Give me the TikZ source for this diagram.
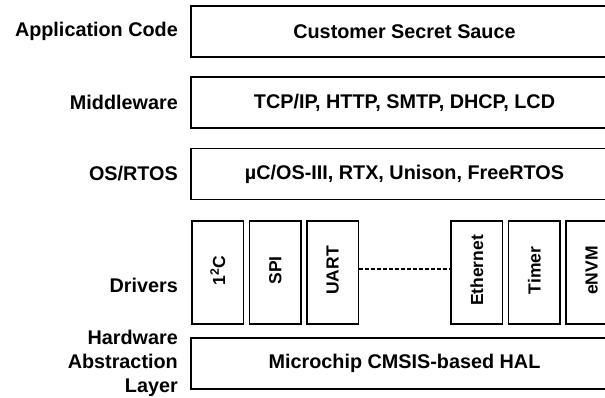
\documentclass[tikz,border=0pt]{standalone}
\usepackage{fontspec}
\setmainfont{Liberation Sans}
\tikzset{
  layer/.style={draw, line width=1.8pt, minimum width=427pt, minimum height=51pt,
    inner sep=0pt, font=\bfseries\fontsize{19.8}{24}\selectfont},
  side/.style={anchor=east, inner sep=0pt, align=right,
    font=\bfseries\fontsize{19.8}{24}\selectfont},
  drvbox/.style={draw, line width=1.8pt, minimum width=51.5pt, minimum height=103pt, inner sep=0pt},
  drvtext/.style={rotate=90, inner sep=0pt, font=\bfseries\fontsize{17.5}{20}\selectfont},
  dotline/.style={line width=1.6pt, dash pattern=on 3.5pt off 2.5pt}
}
\begin{document}
\begin{tikzpicture}[x=1pt, y=-1pt]
  \clip (0,0) rectangle (605,398);
  % layers
  \node[layer] (app) at (404.5,31.5) {Customer Secret Sauce};
  \node[layer] (mid) at (404.5,102.5) {TCP/IP, HTTP, SMTP, DHCP, LCD};
  \node[layer] (os)  at (404.5,174) {µC/OS-III, RTX, Unison, FreeRTOS};
  \node[layer] (hal) at (404.5,363.5) {Microchip CMSIS-based HAL};
  % drivers
  \foreach \n/\x/\t in {i2c/217.75/{1\textsuperscript{2}C}, spi/275.25/SPI, uart/332.75/UART,
      eth/476.75/Ethernet, tmr/534.25/Timer, envm/591.75/eNVM}{
    \node[drvbox] (\n) at (\x,272.5) {};
    \node[drvtext] (\n-t) at (\x,270.5) {\t};
  }
  \draw[dotline] ([yshift=3.5pt]uart.east) -- ([yshift=3.5pt]eth.west);
  % side labels
  \node[side] (lapp) at (178,31.5) {Application Code};
  \node[side] (lmid) at (178,102.5) {Middleware};
  \node[side] (los)  at (178,174) {OS/RTOS};
  \node[side] (ldrv) at (178,285) {Drivers};
  \node[side] (lhal) at (178,363.5) {Hardware\\Abstraction\\Layer};
\end{tikzpicture}
\end{document}
